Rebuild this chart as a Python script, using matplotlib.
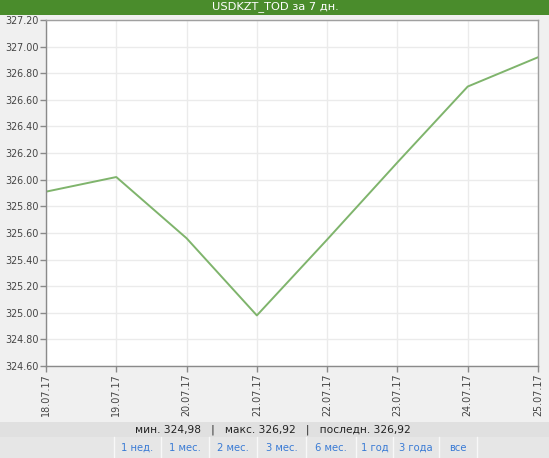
import matplotlib
matplotlib.use("Agg")
import matplotlib.pyplot as plt
from matplotlib.patches import Rectangle
from matplotlib.lines import Line2D

dates = ["18.07.17", "19.07.17", "20.07.17", "21.07.17", "22.07.17", "23.07.17", "24.07.17", "25.07.17"]
values = [325.91, 326.02, 325.56, 324.98, 325.55, 326.13, 326.70, 326.92]
yticks = [324.6, 324.8, 325.0, 325.2, 325.4, 325.6, 325.8, 326.0, 326.2, 326.4, 326.6, 326.8, 327.0, 327.2]
title = "USDKZT_TOD за 7 дн."
stats = "мин. 324,98   |   макс. 326,92   |   последн. 326,92"
buttons = ["1 нед.", "1 мес.", "2 мес.", "3 мес.", "6 мес.", "1 год", "3 года", "все"]
btn_edges = [114, 161, 209, 257, 306, 356, 393, 439, 477]

W, H = 549, 458
fig = plt.figure(figsize=(W / 100, H / 100), dpi=100)
fig.patch.set_facecolor("#f0f0f0")

def px(x, y):
    return x / W, 1 - y / H

# title bar
fig.patches.append(Rectangle((0, 1 - 15 / H), 1, 15 / H, transform=fig.transFigure,
                             facecolor="#4a8c2c", edgecolor="none"))
fig.text(*px(275, 6.5), title, color="white", fontsize=8.2, ha="center", va="center",
         family="DejaVu Sans")

# axes
L, R, T, B = 46, 538, 20, 366
ax = fig.add_axes([L / W, 1 - B / H, (R - L) / W, (B - T) / H])
ax.set_facecolor("white")
x = list(range(len(dates)))
ax.plot(x, values, color="#7fb46c", lw=1.4)
ax.set_xlim(0, len(dates) - 1)
ax.set_ylim(yticks[0], yticks[-1])
ax.set_yticks(yticks)
ax.set_yticklabels([f"{v:.2f}" for v in yticks])
ax.set_xticks(x)
ax.set_xticklabels(dates, rotation=90)
ax.grid(True, color="#ebebeb", lw=1)
ax.set_axisbelow(True)
ax.tick_params(axis="both", labelsize=6.9, colors="#8a8a8a", labelcolor="#444444",
               length=4, width=1, direction="out", pad=1.5)
for s in ["left", "bottom"]:
    ax.spines[s].set_color("#8a8a8a")
    ax.spines[s].set_linewidth(1)
for s in ["top", "right"]:
    ax.spines[s].set_color("#a0a0a0")
    ax.spines[s].set_linewidth(1)

# stats bar
fig.patches.append(Rectangle(px(0, 437), 1, 15 / H, transform=fig.transFigure,
                             facecolor="#e0e0e0", edgecolor="none"))
fig.text(*px(273, 430), stats, color="#222222", fontsize=7.7, ha="center", va="center")

# buttons bar
fig.patches.append(Rectangle(px(0, 458), 1, 21 / H, transform=fig.transFigure,
                             facecolor="#e6e6e6", edgecolor="none"))
for e in btn_edges:
    fig.lines.append(Line2D([e / W, e / W], [0, 21 / H], transform=fig.transFigure,
                            color="#f8f8f8", lw=1))
for i, b in enumerate(buttons):
    cx = (btn_edges[i] + btn_edges[i + 1]) / 2
    fig.text(*px(cx, 448), b, color="#3a7bd5", fontsize=7.2, ha="center", va="center")

fig.savefig("out.png", dpi=100, facecolor=fig.get_facecolor())
